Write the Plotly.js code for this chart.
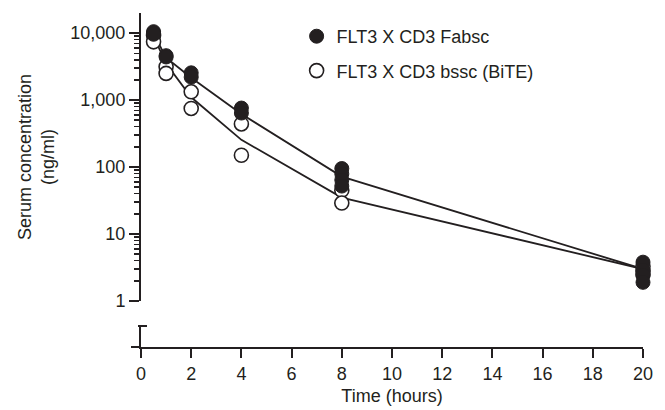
<!DOCTYPE html>
<html>
<head>
<meta charset="utf-8">
<script src="https://cdn.plot.ly/plotly-3.0.1.min.js"></script>
<style>body{margin:0;background:#fff}#chart{width:665px;height:410px}</style>
</head>
<body>
<div id="chart"></div>
<script>
// Observed serum concentrations (ng/ml)
const fabscTime = [0.5,0.5,0.5, 1,1, 2,2, 4,4, 8,8,8,8, 20,20,20,20];
const fabscConc = [10500,10000,9600, 4600,4400, 2550,2200, 760,640, 95,79,64,52, 3.8,2.9,2.4,1.9];
const bsscTime = [0.5,0.5, 1,1, 2,2, 4,4, 8,8, 20,20,20];
const bsscConc = [9200,7400, 3150,2500, 1330,750, 440,150, 45,29, 3.3,2.8,2.5];
// Fitted model curves
const fitTime = [0.5, 1, 2, 4, 8, 20];
const fabscFit = [9800, 4300, 2150, 620, 72, 3.0];
const bsscFit = [9000, 3500, 1100, 255, 35, 3.0];

const yTickVals = [1, 10, 100, 1000, 10000];
const yTickText = ['1', '10', '100', '1,000', '10,000'];
const xTickVals = [0,2,4,6,8,10,12,14,16,18,20];

const ink = '#231f20';
const font = {family: 'Liberation Sans, Arial, sans-serif', size: 18, color: ink};

const traces = [
  {x: [], y: [], xaxis: 'x', yaxis: 'y2', mode: 'markers', showlegend: false, hoverinfo: 'skip'},
  {x: fitTime, y: bsscFit, mode: 'lines', line: {color: ink, width: 1.8}, showlegend: false, hoverinfo: 'skip'},
  {x: fitTime, y: fabscFit, mode: 'lines', line: {color: ink, width: 1.8}, showlegend: false, hoverinfo: 'skip'},
  {x: bsscTime, y: bsscConc, mode: 'markers', name: 'FLT3 X CD3 bssc (BiTE)', legendrank: 2, legendgroup: 'b',
   marker: {symbol: 'circle', size: 14, color: '#fff', line: {color: ink, width: 1.6}}, cliponaxis: false},
  {x: fabscTime, y: fabscConc, mode: 'markers', name: 'FLT3 X CD3 Fabsc', legendrank: 1, legendgroup: 'a',
   marker: {symbol: 'circle', size: 14, color: ink, line: {color: ink, width: 1}}, cliponaxis: false}
];

const W = 502;
const yTopDomain = (347 - 301) / 334;
const yLowDomain = (347 - 326) / 334;

const layout = {
  width: 665, height: 410,
  margin: {l: 141, r: 22, t: 13, b: 63},
  paper_bgcolor: '#fff', plot_bgcolor: 'rgba(0,0,0,0)',
  font: font,
  showlegend: true,
  legend: {x: 0.31, y: 0.985, xanchor: 'left', yanchor: 'top', font: font,
           bgcolor: 'rgba(0,0,0,0)', traceorder: 'grouped', tracegroupgap: 8, itemwidth: 30},
  xaxis: {range: [0, 20], domain: [0, 1], anchor: 'y2', showline: true, linewidth: 2, linecolor: ink,
          ticks: 'outside', ticklen: 9, tickwidth: 2, tickcolor: ink, tickvals: xTickVals,
          showgrid: false, zeroline: false, tickfont: font,
          title: {text: 'Time (hours)', font: font, standoff: 7}},
  yaxis: {type: 'log', range: [0, 4.3], domain: [yTopDomain, 1], anchor: 'x',
          showline: true, linewidth: 2, linecolor: ink,
          ticks: 'outside', ticklen: 10, tickwidth: 2, tickcolor: ink,
          tickvals: yTickVals, ticktext: yTickText, tickfont: font,
          showgrid: false, zeroline: false,
          minor: {ticks: 'outside', ticklen: 5, tickwidth: 1.5, tickcolor: ink, dtick: 'D1', showgrid: false},
          title: {text: 'Serum concentration<br>(ng/ml)', font: font, standoff: 11}},
  yaxis2: {domain: [0, yLowDomain], anchor: 'x', range: [0, 1], showline: true, linewidth: 2, linecolor: ink,
           showticklabels: false, ticks: '', showgrid: false, zeroline: false},
  shapes: [
    {type: 'line', xref: 'paper', yref: 'y', x0: 0, x1: 6 / W, y0: 0, y1: 0, line: {color: ink, width: 2}},
    {type: 'line', xref: 'paper', yref: 'paper', x0: -3 / W, x1: 6 / W, y0: yLowDomain, y1: yLowDomain, line: {color: ink, width: 2}},
    {type: 'line', xref: 'paper', yref: 'paper', x0: -10 / W, x1: 0, y0: 0, y1: 0, line: {color: ink, width: 2}}
  ]
};

Plotly.newPlot('chart', traces, layout, {displayModeBar: false, staticPlot: true});
</script>
</body>
</html>
